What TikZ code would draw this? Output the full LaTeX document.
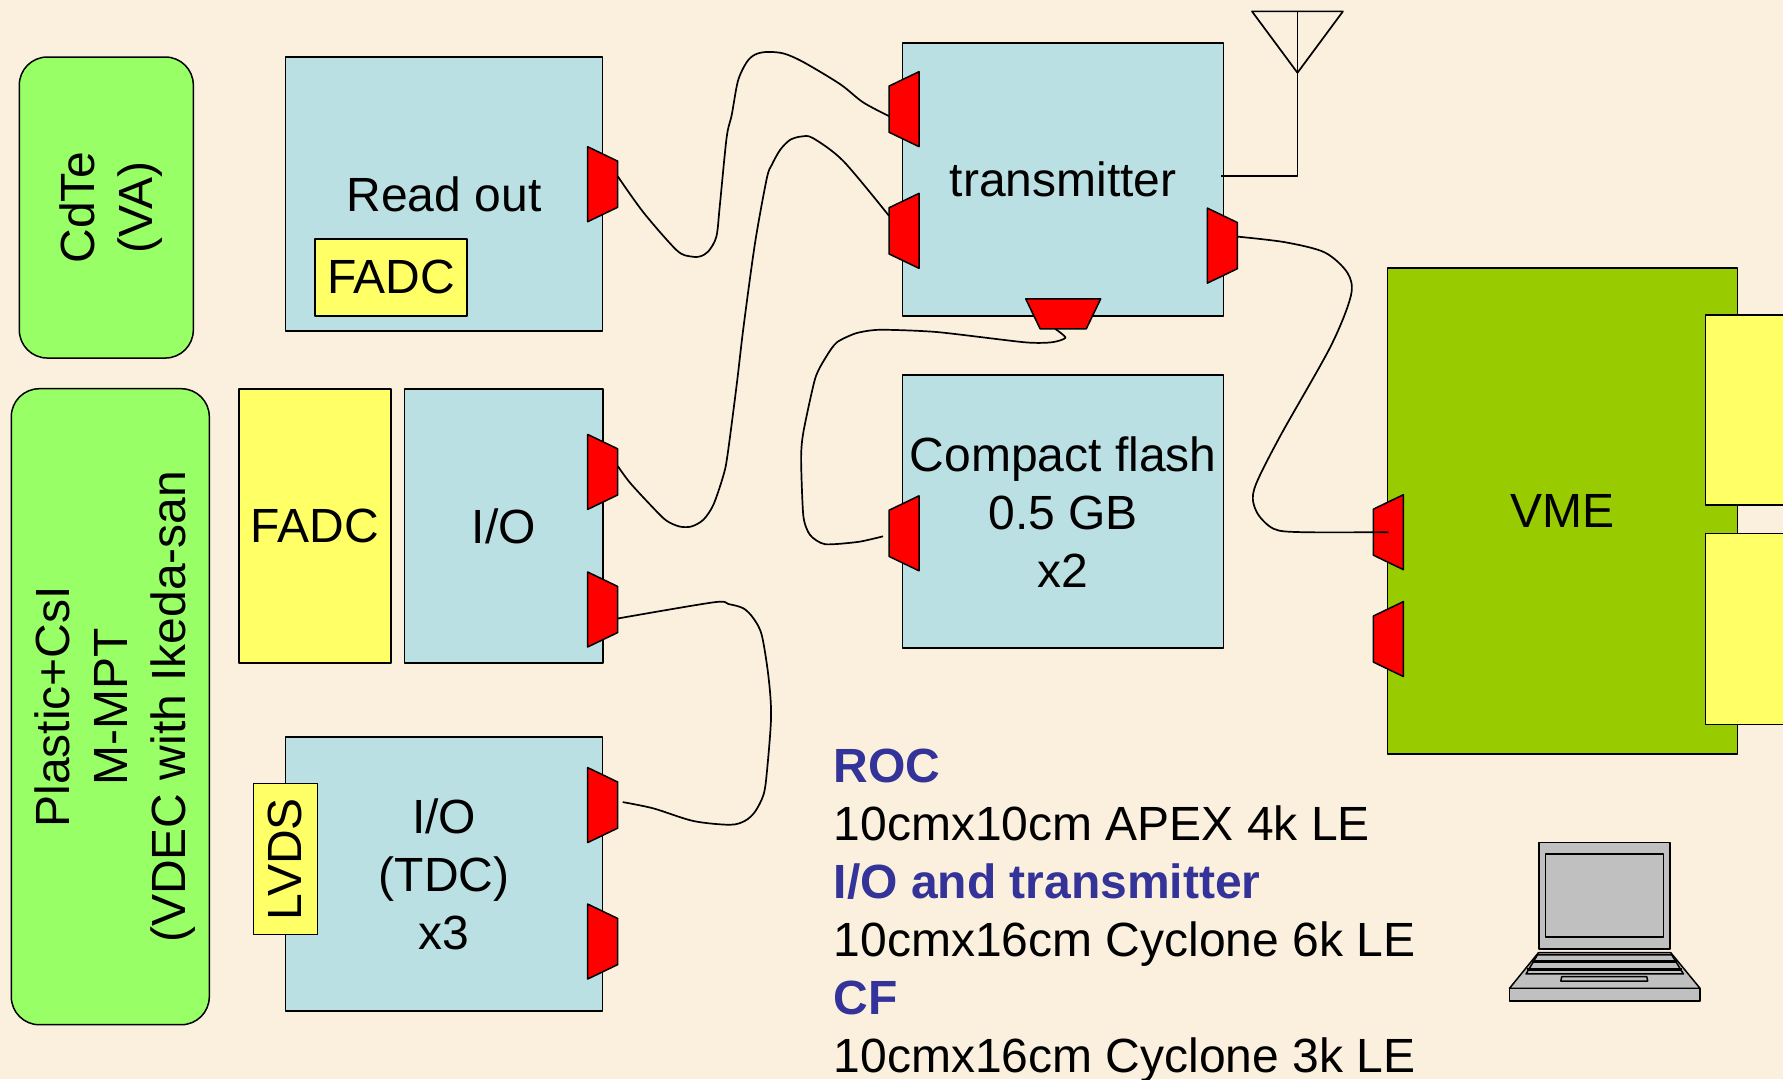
\documentclass[tikz,border=0pt]{standalone}
\usepackage{fontspec}
\setmainfont{Liberation Sans}
\usetikzlibrary{shapes.geometric}
\newcommand{\bigfont}{\fontsize{48}{58}\selectfont}
\newcommand{\toppad}{\rule{0pt}{45pt}}
\definecolor{paper}{HTML}{FAF0DD}
\definecolor{boardblue}{HTML}{BBE0E3}
\definecolor{limegreen}{HTML}{99FF66}
\definecolor{vmegreen}{HTML}{99CC00}
\definecolor{cardyellow}{HTML}{FFFF66}
\definecolor{titleblue}{HTML}{333399}
\definecolor{lapgray}{HTML}{C0C0C0}
\tikzset{
  board/.style={draw,line width=1.5pt,fill=boardblue,font=\bigfont,align=center,inner sep=0pt},
  card/.style={board,fill=cardyellow},
  det/.style={board,fill=limegreen,rounded corners=28pt},
  port/.style={trapezium,draw,line width=1.5pt,fill=red,inner sep=0pt,outer sep=0pt,
    text width=10pt,text height=5pt,text depth=0pt,
    minimum width=75pt,minimum height=30pt,trapezium stretches=true,
    trapezium left angle=58,trapezium right angle=58},
  wire/.style={line width=1.7pt,line join=round},
  lap/.style={line width=1.5pt,fill=lapgray,line join=round}
}
\begin{document}
\begin{tikzpicture}[x=1.1371pt,y=-1.1371pt,join=round] % grid of the shrunk view
        \useasboundingbox[fill=paper](0,0) rectangle (1568,949);
        % detectors
        \node[det,rotate=90,minimum width=301pt,minimum height=174pt] (cdte) at (93.5,182.5) {\toppad CdTe\\(VA)};
        \node[det,rotate=90,minimum width=636pt,minimum height=198pt] (plastic) at (97,621.5) {\toppad Plastic+CsI\\M-MPT\\(VDEC with Ikeda-san};
        % boards
        \node[board,minimum width=317pt,minimum height=274pt] (readout) at (390.5,170.5) {Read out};
        \node[card,minimum width=152pt,minimum height=77pt] (fadcsmall) at (344,244) {FADC};
        \node[card,minimum width=152pt,minimum height=274pt] (fadcbig) at (277,462.5) {FADC};
        \node[board,minimum width=198pt,minimum height=274pt] (io) at (443,462.5) {I/O};
        \node[board,minimum width=317pt,minimum height=274pt] (tdc) at (390.5,768.5) {I/O\\(TDC)\\x3};
        \node[card,rotate=90,minimum width=151pt,minimum height=64pt] (lvds) at (251,755.5) {LVDS};
        \node[board,minimum width=321pt,minimum height=273pt] (transmitter) at (935,158) {transmitter};
        \node[board,minimum width=321pt,minimum height=273pt] (flash) at (935,450) {Compact flash\\0.5 GB\\x2};
        \node[board,fill=vmegreen,minimum width=350pt,minimum height=486pt] (vme) at (1374,449.5) {VME};
        \filldraw[line width=1.5pt,fill=cardyellow](1568,277)--(1500,277)--(1500,444)--(1568,444);
        \filldraw[line width=1.5pt,fill=cardyellow](1568,469)--(1500,469)--(1500,637)--(1568,637);
        % ports
        \node[port,rotate=-90] (readoutport) at (530,162) {};
        \node[port,rotate=-90] (ioporta) at (530,415) {};
        \node[port,rotate=-90] (ioportb) at (530,536) {};
        \node[port,rotate=-90] (tdcporta) at (530,708) {};
        \node[port,rotate=-90] (tdcportb) at (530,828) {};
        \node[port,rotate=90] (txporta) at (795,96) {};
        \node[port,rotate=90] (txportb) at (795,203) {};
        \node[port,rotate=-90] (txportc) at (1075,216) {};
        \node[port,rotate=180] (txportd) at (935,276) {};
        \node[port,rotate=90] (flashport) at (795,469) {};
        \node[port,rotate=90] (vmeporta) at (1221,468) {};
        \node[port,rotate=90] (vmeportb) at (1221,562) {};
        % cables
        \draw[wire] plot[smooth,tension=.5] coordinates {([yshift=8pt]readoutport.top side) (566,187) (595,220) (607,225.5) (615.6,225.5) (623,221) (630,208) (633,181) (639,121) (643.5,101) (649,71) (656.7,54.6) (664,48) (674,45.7) (689,47) (706.5,54.6) (738.8,74) (759,90) ([yshift=-7pt]txporta.top side)};
        \draw[wire] plot[smooth,tension=.5] coordinates {([yshift=6pt]ioporta.top side) (554,424.5) (574.6,446.8) (586,457.8) (597.5,463) (608,463) (618.6,457) (627.4,443.8) (636,418.6) (639.7,400.7) (647.9,338) (653.8,288) (664,213.6) (674.3,157) (678.7,145) (686,131.9) (694.8,123) (705,120) (715,121.5) (741.7,141.7) ([yshift=15pt]txportb.top side)};
        \draw[wire] plot[smooth,tension=.5] coordinates {([yshift=-9pt]ioportb.top side) (627.4,529.7) (640.6,531.2) (653.8,535) (662.6,543.8) (669.9,558.5) (675.8,595) (678.1,630.3) (674.3,680) (671.4,699) (664,713.8) (655.2,721.8) (642,725.3) (609.8,722) (574.6,710.9) ([xshift=5pt,yshift=3pt]tdcporta.top side)};
        \draw[wire] plot[smooth,tension=.4] coordinates {([xshift=-8pt]txportd.top side) (937,297) (925,301) (901,301) (824,292) (774,290) (753,293) (736,301) (727,313) (717,332.4) (706.5,380) (704.5,403.7) (706.5,454) (712.4,470.5) (725.6,478.6) (755,476.5) ([xshift=-6pt,yshift=-3pt]flashport.top side)};
        \draw[wire] plot[smooth,tension=.5] coordinates {([yshift=9pt]txportc.top side) (1130,213) (1165,222) (1185,240) (1188,260) (1170,305) (1125,385) (1103,430) (1105,450) (1120,465) (1145,468) (vmeporta.center)};
        % antenna
        \coordinate (antennatip) at (1141,64);
        \coordinate (antennatop) at (1141,10);
        \coordinate (txout) at (1074,155);
        \draw[wire](1101,10)--(1181,10)--(antennatip)--cycle;
        \draw[wire](antennatop)--(antennatip)|-(txout);
        % notes
        \node[anchor=west,align=left,font=\bigfont,inner sep=0pt] (notes) at (733,805) {\textcolor{titleblue}{\textbf{ROC}}\\10cmx10cm APEX 4k LE\\\textcolor{titleblue}{\textbf{I/O and transmitter}}\\10cmx16cm Cyclone 6k LE\\\textcolor{titleblue}{\textbf{CF}}\\10cmx16cm Cyclone 3k LE};
        % laptop
        \filldraw[lap](1353.6,741)rectangle(1468.6,834.6);
        \filldraw[lap](1359,751)rectangle(1463,824);
        \filldraw[lap](1352.9,837.8)--(1469.3,837.8)--(1495.1,869.2)--(1327.4,869.2)--cycle;
        \filldraw[lap](1327.4,869.2)rectangle(1495.1,880.3);
        \filldraw[lap](1352,839.8)--(1470.2,839.8)--(1480.4,856.5)--(1342,856.5)--cycle;
        \draw[line width=3pt](1347,845.7)--(1475,845.7);
        \draw[line width=3pt](1343,853)--(1479,853);
        \filldraw[lap](1373.4,858.9)--(1448.2,858.9)--(1449,862.7)--(1372.6,862.7)--cycle;
     \end{tikzpicture}
\end{document}
